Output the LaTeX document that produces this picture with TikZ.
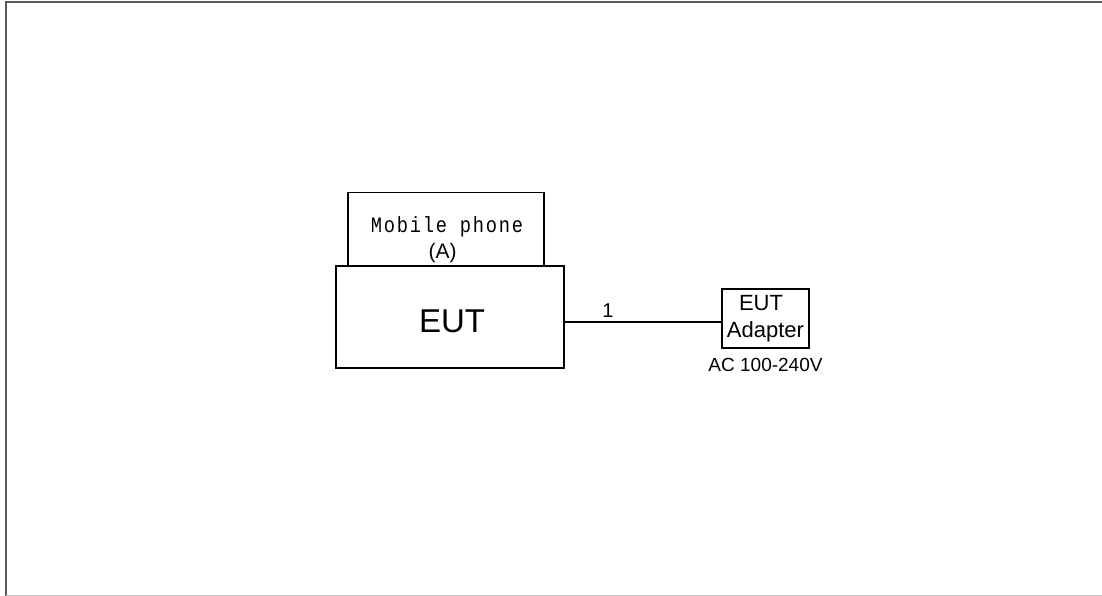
\documentclass[tikz,border=0pt]{standalone}
\usepackage{fontspec}
\setmainfont{Liberation Sans}
\newfontfamily\monofnt[FakeStretch=0.85,LetterSpace=8]{Liberation Mono}
\begin{document}
\begin{tikzpicture}[x=1pt,y=-1pt,
  box/.style={draw=black,line width=1.3pt,fill=white,inner sep=0pt},
  lbl/.style={inner sep=0pt,anchor=base,text=black},
  wire/.style={draw=black,line width=1.3pt}]
\useasboundingbox (0,0) rectangle (1102,596);
% frame
\draw[line width=2pt,draw=black!65] (6,596) -- (6,2.5) -- (1102,2.5);
\draw[line width=1pt,draw=black!25] (6,595.5) -- (1102,595.5);
% boxes
\node[box,minimum width=196pt,minimum height=74pt] (phone) at (446,229.5) {};
\node[box,minimum width=228pt,minimum height=102pt] (eut) at (450,317) {};
\node[box,minimum width=87pt,minimum height=59pt] (adp) at (765.5,318.5) {};
% texts
\node[lbl,font=\monofnt\fontsize{22}{25}\selectfont] (tph) at (447,232) {Mobile phone};
\node[lbl,font=\fontsize{21}{24}\selectfont] (ta) at (442.5,258) {(A)};
\node[lbl,font=\fontsize{33}{38}\selectfont] (teut) at (452,332) {EUT};
\node[lbl,font=\fontsize{22}{24}\selectfont] (tadp1) at (761,310) {EUT};
\node[lbl,font=\fontsize{22}{24}\selectfont] (tadp2) at (765.5,337) {Adapter};
\node[lbl,font=\fontsize{19}{22}\selectfont] (tac) at (765.5,371) {AC 100-240V};
% connector
\draw[wire] (eut.east |- 0,322) -- (adp.west |- 0,322);
\node[lbl,font=\fontsize{20}{23}\selectfont] (one) at (608,317) {1};
\end{tikzpicture}
\end{document}
